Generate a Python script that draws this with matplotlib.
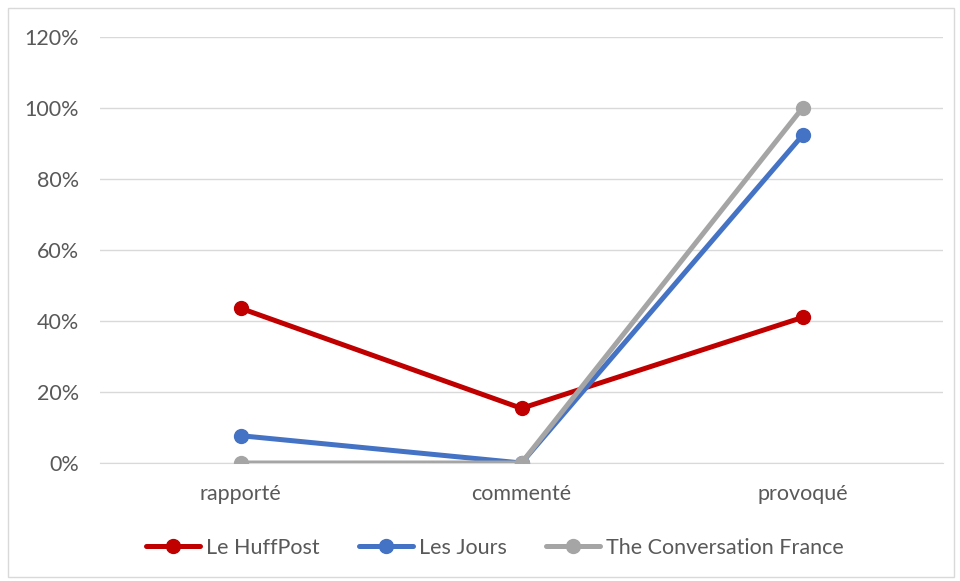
import matplotlib
matplotlib.use("Agg")
import matplotlib.pyplot as plt
from matplotlib.patches import Rectangle

categories = ["rapporté", "commenté", "provoqué"]
huffpost = [43.6, 15.4, 41.0]
les_jours = [7.7, 0.0, 92.3]
conversation = [0.0, 0.0, 100.0]
series_names = ["Le HuffPost", "Les Jours", "The Conversation France"]
yticks = [0, 20, 40, 60, 80, 100, 120]

plt.rcParams['font.family'] = ['Lato', 'DejaVu Sans']
txt = '#595959'

fig = plt.figure(figsize=(9.6, 5.81), dpi=100)
fig.patches.append(Rectangle((8/960, 1-577/581), 946/960, 569/581, transform=fig.transFigure,
                             fill=False, edgecolor='#D9D9D9', linewidth=1))
ax = fig.add_axes([100/960, 1-463/581, 843/960, 426/581])

x = range(len(categories))
colors = ['#C00000', '#4472C4', '#A5A5A5']
for vals, name, c in zip([huffpost, les_jours, conversation], series_names, colors):
    ax.plot(x, vals, color=c, linewidth=3.6, marker='o', markersize=10, label=name,
            solid_capstyle='round', zorder=3)

ax.set_xlim(-0.5, 2.5)
ax.set_ylim(0, 120)
ax.set_yticks(yticks)
ax.set_yticklabels([f"{v}%" for v in yticks])
ax.set_xticks(list(x))
ax.set_xticklabels(categories)
ax.grid(axis='y', color='#D9D9D9', linewidth=1)
ax.set_axisbelow(True)
for s in ['top', 'right', 'left']:
    ax.spines[s].set_visible(False)
ax.spines['bottom'].set_color('#D9D9D9')
ax.tick_params(axis='both', length=0, colors=txt, labelsize=15.5)
ax.tick_params(axis='y', pad=15)
ax.tick_params(axis='x', pad=15)
for lab in ax.get_xticklabels() + ax.get_yticklabels():
    lab.set_color(txt)

leg = fig.legend(loc='center', bbox_to_anchor=(495/960, 1-548/581), ncol=3, frameon=False,
                 fontsize=15.5, handlelength=2.5, columnspacing=1.8, handletextpad=0.3)
for t in leg.get_texts():
    t.set_color(txt)

fig.savefig("out.png", dpi=100)
